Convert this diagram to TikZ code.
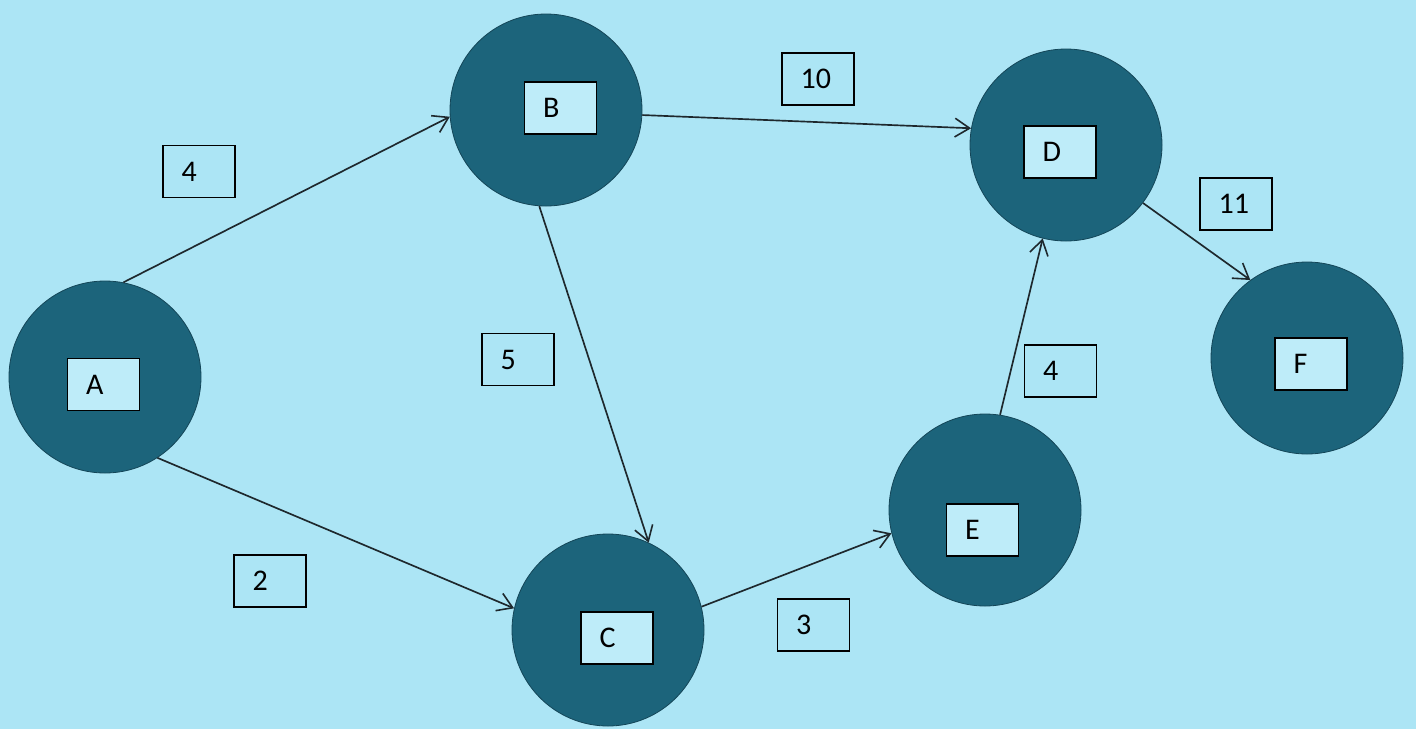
\documentclass[tikz,border=0pt]{standalone}
\usepackage{fontspec}
\setmainfont{Carlito}
\usetikzlibrary{arrows.meta}
\definecolor{skyback}{RGB}{172,229,245}
\definecolor{tealdisc}{RGB}{28,100,123}
\definecolor{tealedge}{RGB}{20,70,88}
\definecolor{labelfill}{RGB}{190,236,249}
\definecolor{inkline}{RGB}{30,40,45}
\begin{document}
\begin{tikzpicture}[x=0.75pt,y=0.75pt,yscale=-1,xscale=1,
  disc/.style={circle,fill=tealdisc,draw=tealedge,line width=0.6pt,minimum size=144pt,inner sep=0pt},
  tag/.style={draw=black,line width=1.2pt,text width=26pt,align=left,inner xsep=14pt,minimum height=39pt,font=\fontsize{22.5}{26}\selectfont},
  namebox/.style={tag,fill=labelfill},
  link/.style={draw=inkline,line width=1.25pt,-{Straight Barb[length=11pt,width=14pt,line width=1.2pt]}}]
\fill[skyback] (0,0) rectangle (1416,729);

%Shape: Circle A
\draw (105,377) node [disc] (A) {};
%Shape: Circle B
\draw (546,110) node [disc] (B) {};
%Shape: Circle C
\draw (608,630) node [disc] (C) {};
%Shape: Circle D
\draw (1066,145) node [disc] (D) {};
%Shape: Circle E
\draw (985,510) node [disc] (E) {};
%Shape: Circle F
\draw (1307,358) node [disc] (F) {};

% Text Node
\draw (103.5,384.5) node [namebox] (lA) {A};
% Text Node
\draw (560.5,108) node [namebox] (lB) {B};
% Text Node
\draw (617,638) node [namebox] (lC) {C};
% Text Node
\draw (1060,152) node [namebox] (lD) {D};
% Text Node
\draw (982.5,530) node [namebox] (lE) {E};
% Text Node
\draw (1311,364) node [namebox] (lF) {F};

%Straight Lines
\draw [link] (A.79) -- (B.184);
\draw [link] (B.-3) -- (D.170);
\draw [link] (B.266) -- (C.65);
\draw [link] (A.-57) -- (C.167);
\draw [link] (C.14) -- (E.194);
\draw [link] (E.81) -- (D.256);
\draw [link] (D.-37) -- (F.126);

% Text Node
\draw (199,171.5) node [tag] (wAB) {4};
% Text Node
\draw (818,79) node [tag] (wBD) {10};
% Text Node
\draw (518,359.5) node [tag] (wBC) {5};
% Text Node
\draw (270,581) node [tag] (wAC) {2};
% Text Node
\draw (813.5,625) node [tag] (wCE) {3};
% Text Node
\draw (1060.5,371) node [tag] (wED) {4};
% Text Node
\draw (1236,204) node [tag] (wDF) {11};

\end{tikzpicture}
\end{document}
